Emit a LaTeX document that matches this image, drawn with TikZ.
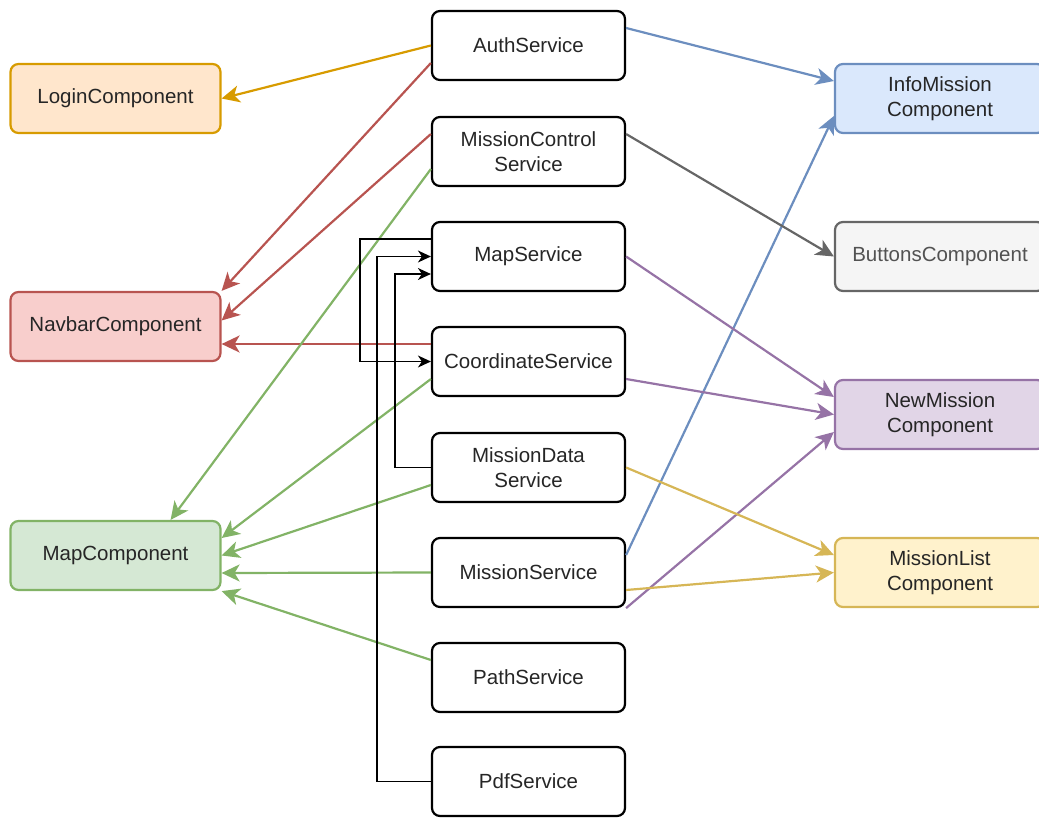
\documentclass[tikz,border=0pt]{standalone}
\usepackage{fontspec}
\setmainfont{Liberation Sans}
\usetikzlibrary{arrows.meta}

\definecolor{loginfill}{HTML}{FFE6CC}\definecolor{logindraw}{HTML}{D79B00}
\definecolor{navfill}{HTML}{F8CECC}\definecolor{navdraw}{HTML}{B85450}
\definecolor{mapfill}{HTML}{D5E8D4}\definecolor{mapdraw}{HTML}{82B366}
\definecolor{infofill}{HTML}{DAE8FC}\definecolor{infodraw}{HTML}{6C8EBF}
\definecolor{btnfill}{HTML}{F5F5F5}\definecolor{btndraw}{HTML}{666666}
\definecolor{newfill}{HTML}{E1D5E7}\definecolor{newdraw}{HTML}{9673A6}
\definecolor{listfill}{HTML}{FFF2CC}\definecolor{listdraw}{HTML}{D6B656}

\tikzset{Dep/.style={arrows={-Stealth[length=18pt,width=17pt,inset=5pt]}},
  Call/.style={line width=1.4pt,arrows={-Stealth[length=13pt,width=12pt,inset=4pt]}}}

\begin{document}
\begin{tikzpicture}[x=1pt,y=-1pt,line width=2.2pt]
		\tikzstyle{Service}=[draw=black,fill=white,rounded corners=8pt,
		  minimum width=193pt,minimum height=69pt,inner sep=2pt,align=center,
		  text=black!85,font=\fontsize{20.5}{25}\selectfont]
		\tikzstyle{Comp}=[Service,minimum width=210pt]
		\useasboundingbox (0,0) rectangle (1039,817);
		% services
		\node[Service] (Auth) at (528.5,45.5) {AuthService};
		\node[Service] (MissionCtl) at (528.5,151.5) {MissionControl\\Service};
		\node[Service] (MapSrv) at (528.5,256.5) {MapService};
		\node[Service] (CoordSrv) at (528.5,361.5) {CoordinateService};
		\node[Service] (MissionData) at (528.5,467.5) {MissionData\\Service};
		\node[Service] (MissionSrv) at (528.5,572.5) {MissionService};
		\node[Service] (PathSrv) at (528.5,677.5) {PathService};
		\node[Service] (PdfSrv) at (528.5,781.5) {PdfService};
		% components, left
		\node[Comp,fill=loginfill,draw=logindraw] (Login) at (115.5,98.5) {LoginComponent};
		\node[Comp,fill=navfill,draw=navdraw] (Navbar) at (115.5,326.5) {NavbarComponent};
		\node[Comp,fill=mapfill,draw=mapdraw] (MapComp) at (115.5,555.5) {MapComponent};
		% components, right
		\node[Comp,fill=infofill,draw=infodraw] (InfoMission) at (940,98.5) {InfoMission\\Component};
		\node[Comp,fill=btnfill,draw=btndraw,text=btndraw!80!black] (Buttons) at (940,256.5) {ButtonsComponent};
		\node[Comp,fill=newfill,draw=newdraw] (NewMission) at (940,414.5) {NewMission\\Component};
		\node[Comp,fill=listfill,draw=listdraw] (MissionList) at (940,572.5) {MissionList\\Component};
		% to the left
		\draw[Dep,logindraw] (Auth.west) -- (Login.east);
		\draw[Dep,navdraw] ([yshift=-17.5pt]Auth.west) -- (Navbar.north east);
		\draw[Dep,navdraw] ([yshift=17.5pt]MissionCtl.west) -- ([yshift=6pt]Navbar.east);
		\draw[Dep,navdraw] ([yshift=17.5pt]CoordSrv.west) -- ([yshift=-17.5pt]Navbar.east);
		\draw[Dep,mapdraw] ([yshift=-17.5pt]MissionCtl.west) -- ([xshift=-51pt]MapComp.north east);
		\draw[Dep,mapdraw] ([yshift=-17.5pt]CoordSrv.west) -- ([yshift=17.5pt]MapComp.east);
		\draw[Dep,mapdraw] ([yshift=-17.5pt]MissionData.west) -- (MapComp.east);
		\draw[Dep,mapdraw] (MissionSrv.west) -- ([yshift=-17.5pt]MapComp.east);
		\draw[Dep,mapdraw] ([yshift=17.5pt]PathSrv.west) -- (MapComp.south east);
		% to the right
		\draw[Dep,infodraw] ([yshift=17.5pt]Auth.east) -- ([yshift=17.5pt]InfoMission.west);
		\draw[Dep,infodraw] ([yshift=17.5pt]MissionSrv.east) -- ([yshift=-17.5pt]InfoMission.west);
		\draw[Dep,btndraw] ([yshift=17.5pt]MissionCtl.east) -- (Buttons.west);
		\draw[Dep,newdraw] (MapSrv.east) -- ([yshift=17.5pt]NewMission.west);
		\draw[Dep,newdraw] ([yshift=-17.5pt]CoordSrv.east) -- (NewMission.west);
		\draw[Dep,newdraw] (MissionSrv.south east) -- ([yshift=-17.5pt]NewMission.west);
		\draw[Dep,listdraw] (MissionData.east) -- ([yshift=17.5pt]MissionList.west);
		\draw[Dep,listdraw] ([yshift=-17.5pt]MissionSrv.east) -- (MissionList.west);
		% between services
		\draw[Call] ([yshift=17.5pt]MapSrv.west) -- ++(-71,0) |- (CoordSrv.west);
		\draw[Call] (PdfSrv.west) -- ++(-54,0) |- (MapSrv.west);
		\draw[Call] (MissionData.west) -- ++(-36,0) |- ([yshift=-17.5pt]MapSrv.west);
		%\draw[Call] (PathSrv.west) -- (MapSrv.west);
	\end{tikzpicture}
\end{document}
